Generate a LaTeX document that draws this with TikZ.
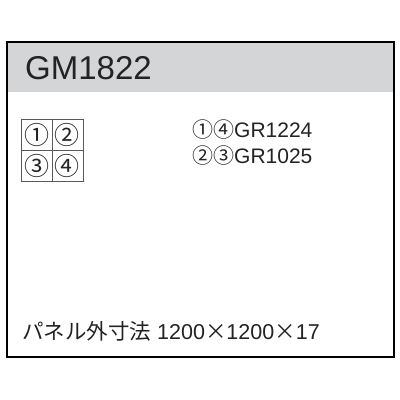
\documentclass[tikz,border=0pt]{standalone}
\usepackage{fontspec}
\setmainfont{Liberation Sans}
\newfontfamily\cjk{Noto Sans CJK JP}
\definecolor{bandgray}{RGB}{212,213,215}
\definecolor{txt}{RGB}{35,35,35}
\begin{document}
\begin{tikzpicture}[x=1pt,y=-1pt,
  lbl/.style={inner sep=0pt,anchor=base west,text=txt},
  circ/.style={inner sep=0pt,text=txt,font=\cjk\fontsize{25}{25}\selectfont},
  gridline/.style={draw=black!65,line width=1pt}]
\useasboundingbox (0,0) rectangle (400,400);
\fill[white] (0,0) rectangle (400,400);
% band
\fill[bandgray] (7,42) rectangle (394,92);
\draw[line width=2.4pt] (7,42) rectangle (394,357);
\node[lbl,font=\fontsize{33}{33}\selectfont] (title) at (25,79) {GM1822};
% grid
\draw[gridline] (21,119) rectangle (83,181);
\draw[gridline] (52,119) coordinate (gt) -- (52,181) coordinate (gb);
\draw[gridline] (21,150) coordinate (gl) -- (83,150) coordinate (gr);
\node[circ] (c1) at (36.5,134.5) {①};
\node[circ] (c2) at (67.5,134.5) {②};
\node[circ] (c3) at (36.5,165.5) {③};
\node[circ] (c4) at (67.5,165.5) {④};
% right text
\node[lbl,font=\fontsize{21}{21}\selectfont] (l1) at (192,137) {{\cjk ①④}GR1224};
\node[lbl,font=\fontsize{21}{21}\selectfont] (l2) at (192,163) {{\cjk ②③}GR1025};
% bottom text
\node[lbl,font=\fontsize{21.5}{21.5}\selectfont] (dim) at (22,339) {{\cjk パネル外寸法} 1200{\cjk ×}1200{\cjk ×}17};
\end{tikzpicture}
\end{document}
